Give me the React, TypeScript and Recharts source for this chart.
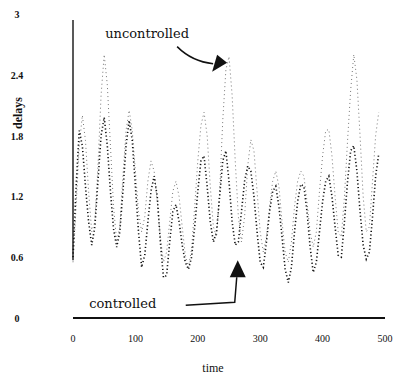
import { LineChart, Line, XAxis, YAxis, ReferenceLine, ReferenceDot } from 'recharts';

// sample times
const time = [
  0, 5, 10, 15, 20, 25, 30, 35, 40, 45, 50, 55, 60, 65, 70, 75, 80, 85, 90, 95,
  100, 105, 110, 115, 120, 125, 130, 135, 140, 145, 150, 155, 160, 165, 170, 175, 180, 185, 190, 195,
  200, 205, 210, 215, 220, 225, 230, 235, 240, 245, 250, 255, 260, 265, 270, 275, 280, 285, 290, 295,
  300, 305, 310, 315, 320, 325, 330, 335, 340, 345, 350, 355, 360, 365, 370, 375, 380, 385, 390, 395,
  400, 405, 410, 415, 420, 425, 430, 435, 440, 445, 450, 455, 460, 465, 470, 475, 480, 485, 490,
];

const uncontrolled = [
  0.55, 1.1, 1.7, 2.0, 1.75, 1.25, 0.85, 0.95, 1.5, 2.2, 2.6, 2.3, 1.7, 1.1, 0.75, 0.9, 1.4, 1.85, 2.05, 1.85,
  1.45, 1.05, 0.85, 1.0, 1.35, 1.55, 1.45, 1.15, 0.8, 0.55, 0.65, 0.95, 1.25, 1.35, 1.2, 0.9, 0.62, 0.5, 0.68, 1.1,
  1.55, 1.9, 2.03, 1.8, 1.3, 0.9, 0.8, 1.25, 1.95, 2.45, 2.58, 2.2, 1.55, 1.0, 0.75, 1.0, 1.5, 1.76, 1.65, 1.25,
  0.85, 0.65, 0.8, 1.1, 1.35, 1.45, 1.3, 0.95, 0.65, 0.55, 0.75, 1.1, 1.35, 1.45, 1.4, 1.15, 0.85, 0.7, 0.85, 1.25,
  1.6, 1.85, 1.86, 1.6, 1.2, 0.85, 0.8, 1.2, 1.75, 2.25, 2.6, 2.35, 1.8, 1.2, 0.85, 0.9, 1.35, 1.8, 2.03,
];

const controlled = [
  0.6, 1.3, 1.85, 1.7, 1.3, 0.95, 0.72, 0.9, 1.35, 1.8, 1.98, 1.7, 1.25, 0.88, 0.7, 0.85, 1.25, 1.7, 1.95, 1.75,
  1.3, 0.85, 0.5, 0.62, 0.95, 1.25, 1.4, 1.2, 0.75, 0.4, 0.42, 0.75, 1.05, 1.12, 0.95, 0.72, 0.55, 0.48, 0.6, 0.9,
  1.25, 1.55, 1.6, 1.3, 0.95, 0.75, 0.85, 1.2, 1.55, 1.65, 1.35, 0.95, 0.72, 0.75, 1.05, 1.35, 1.5, 1.45, 1.2, 0.85,
  0.55, 0.5, 0.75, 1.05, 1.25, 1.3, 1.1, 0.8, 0.48, 0.35, 0.5, 0.85, 1.15, 1.32, 1.3, 1.05, 0.7, 0.45, 0.55, 0.85,
  1.15, 1.35, 1.4, 1.2, 0.9, 0.62, 0.6, 0.95, 1.35, 1.65, 1.7, 1.45, 1.05, 0.72, 0.58, 0.65, 1.0, 1.4, 1.62,
];

const xTicks = [0, 100, 200, 300, 400, 500];
const yTicks = [0, 0.6, 1.2, 1.8, 2.4, 3];

const data = time.map((t, i) => ({ t, uncontrolled: uncontrolled[i], controlled: controlled[i] }));

const SERIF = '"Liberation Serif", "DejaVu Serif", serif';

const XTick = ({ x, y, payload }: any) => (
  <text x={x} y={y + 24} textAnchor="middle" fontFamily={SERIF} fontSize={10} fill="#111">
    {payload.value}
  </text>
);

const YTick = ({ y, payload }: any) => (
  <text x={17} y={y + 4} textAnchor="middle" fontFamily={SERIF} fontSize={10} fontWeight="bold" fill="#111">
    {payload.value}
  </text>
);

const DelaysLabel = () => (
  <text
    x={22}
    y={113}
    transform="rotate(-90 22 113)"
    textAnchor="middle"
    fontFamily={SERIF}
    fontSize={12}
    fontWeight="bold"
    fill="#111"
  >
    delays
  </text>
);

const TimeLabel = () => (
  <text x={213} y={372} textAnchor="middle" fontFamily={SERIF} fontSize={12} fill="#111">
    time
  </text>
);

// arrow pointing at the uncontrolled peak, with its caption
const UncontrolledArrow = ({ cx, cy }: any) => (
  <g>
    <path d={`M${cx - 50},${cy - 16} Q${cx - 35},${cy - 1} ${cx - 14},${cy + 1}`} fill="none" stroke="#111" strokeWidth={1.5} />
    <path d={`M${cx},${cy} L${cx - 15},${cy + 9} L${cx - 10},${cy - 8} Z`} fill="#111" />
    <text x={cx - 80} y={cy - 25} textAnchor="middle" fontFamily='"DejaVu Serif", serif' fontSize={13} fill="#111">
      uncontrolled
    </text>
  </g>
);

// arrow pointing at the controlled trough, with its caption
const ControlledArrow = ({ cx, cy }: any) => (
  <g>
    <path d={`M${cx - 1},${cy + 17} L${cx - 3},${cy + 42} L${cx - 52},${cy + 45}`} fill="none" stroke="#111" strokeWidth={1.5} />
    <path d={`M${cx},${cy} L${cx - 8},${cy + 17} L${cx + 8},${cy + 17} Z`} fill="#111" />
    <text x={cx - 115} y={cy + 48} textAnchor="middle" fontFamily='"DejaVu Serif", serif' fontSize={13} fill="#111">
      controlled
    </text>
  </g>
);

export default function App() {
  return (
    <div style={{ position: 'absolute', left: 0, top: 0, background: '#fff' }}>
      <LineChart width={404} height={385} data={data} margin={{ top: 14, right: 19, bottom: 0, left: 0 }}>
        <XAxis
          dataKey="t"
          type="number"
          domain={[0, 500]}
          ticks={xTicks}
          tickSize={0}
          tickMargin={0}
          tickLine={false}
          axisLine={{ stroke: '#111', strokeWidth: 2 }}
          tick={<XTick />}
          height={67}
          label={<TimeLabel />}
        />
        <YAxis
          type="number"
          domain={[0, 3]}
          ticks={yTicks}
          width={73}
          axisLine={false}
          tickLine={false}
          tick={<YTick />}
          label={<DelaysLabel />}
        />
        <ReferenceLine
          segment={[{ x: 0, y: 0.57 }, { x: 0, y: 2.94 }]}
          stroke="#222"
          strokeWidth={1.5}
          ifOverflow="visible"
        />
        <Line
          dataKey="uncontrolled"
          type="linear"
          stroke="#777"
          strokeWidth={1}
          strokeDasharray="1 3"
          dot={false}
          isAnimationActive={false}
        />
        <Line
          dataKey="controlled"
          type="linear"
          stroke="#111"
          strokeWidth={1.6}
          strokeDasharray="1.2 2.4"
          dot={false}
          isAnimationActive={false}
        />
        <ReferenceDot x={247} y={2.52} ifOverflow="visible" shape={<UncontrolledArrow />} />
        <ReferenceDot x={264} y={0.57} ifOverflow="visible" shape={<ControlledArrow />} />
      </LineChart>
    </div>
  );
}
